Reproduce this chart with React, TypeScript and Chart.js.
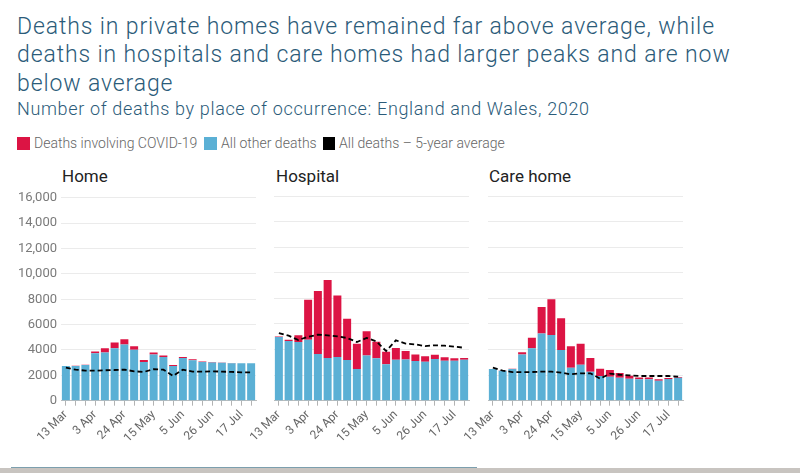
import React, { useEffect, useRef } from "react";
import { Chart, registerables } from "chart.js";

Chart.register(...registerables);
Chart.defaults.font.family = "Roboto, 'Open Sans', sans-serif";

// Week ending dates, 2020
const weeks = [
  "13 Mar", "20 Mar", "27 Mar", "3 Apr", "10 Apr", "17 Apr", "24 Apr", "1 May",
  "8 May", "15 May", "22 May", "29 May", "5 Jun", "12 Jun", "19 Jun", "26 Jun",
  "3 Jul", "10 Jul", "17 Jul", "24 Jul",
];

// Home
const homeOther = [2740, 2740, 2810, 3750, 3800, 4140, 4430, 4010, 3050, 3650, 3440, 2740, 3360, 3180, 3050, 3020, 3000, 2950, 2950, 2950];
const homeCovid = [5, 10, 30, 130, 340, 450, 420, 290, 150, 150, 130, 70, 80, 80, 50, 30, 20, 20, 10, 10];
const homeAverage = [2600, 2450, 2370, 2370, 2400, 2420, 2450, 2320, 2270, 2480, 2450, 1950, 2450, 2290, 2290, 2320, 2290, 2270, 2240, 2240];

// Hospital
const hospitalOther = [4980, 4665, 4590, 4770, 3650, 3340, 3410, 3180, 2480, 3540, 3310, 2840, 3200, 3230, 3100, 3050, 3260, 3130, 3130, 3200];
const hospitalCovid = [30, 105, 520, 3130, 4920, 6090, 4820, 3230, 1980, 1880, 1300, 990, 920, 650, 520, 420, 340, 260, 180, 140];
const hospitalAverage = [5290, 5080, 4740, 5000, 5160, 5110, 5030, 4900, 4590, 4900, 4640, 3880, 4720, 4460, 4400, 4270, 4330, 4300, 4220, 4140];

// Care home
const careOther = [2480, 2350, 2480, 3620, 4090, 5260, 5130, 3960, 2580, 2810, 2270, 1930, 1880, 1800, 1720, 1670, 1670, 1560, 1690, 1800];
const careCovid = [5, 5, 10, 160, 840, 2060, 2790, 2480, 1670, 1650, 1070, 570, 520, 360, 230, 150, 150, 110, 80, 50];
const careAverage = [2580, 2350, 2240, 2240, 2240, 2270, 2270, 2190, 2060, 2140, 2140, 1720, 2110, 2030, 1980, 1930, 1930, 1930, 1930, 1880];

const yMax = 16000;
const yStep = 2000;

const RED = "#dc1444";
const BLUE = "#5bb0d5";
const TITLE_BLUE = "#2b5b79";

const legendItems = [
  { label: "Deaths involving COVID-19", color: RED, box: 17, text: 34 },
  { label: "All other deaths", color: BLUE, box: 204, text: 221 },
  { label: "All deaths \u2013 5-year average", color: "#000", box: 322.5, text: 339 },
];

type PanelProps = {
  left: number;
  width: number;
  padLeft: number;
  showY: boolean;
  other: number[];
  covid: number[];
  average: number[];
};

function Panel({ left, width, padLeft, showY, other, covid, average }: PanelProps) {
  const ref = useRef<HTMLCanvasElement | null>(null);

  useEffect(() => {
    if (!ref.current) return;
    const chart = new Chart(ref.current, {
      type: "bar",
      data: {
        labels: weeks,
        datasets: [
          {
            type: "line",
            label: "All deaths \u2013 5-year average",
            data: average,
            borderColor: "#000",
            borderWidth: 1.8,
            borderDash: [5, 3],
            pointRadius: 0,
            fill: false,
            tension: 0,
            stack: "avg",
            order: 0,
          } as any,
          {
            label: "All other deaths",
            data: other,
            backgroundColor: BLUE,
            stack: "deaths",
            order: 1,
            barPercentage: 0.82,
            categoryPercentage: 1,
          },
          {
            label: "Deaths involving COVID-19",
            data: covid,
            backgroundColor: RED,
            stack: "deaths",
            order: 1,
            barPercentage: 0.82,
            categoryPercentage: 1,
          },
        ],
      },
      options: {
        responsive: false,
        maintainAspectRatio: false,
        animation: false,
        layout: { padding: { left: padLeft, right: 12, top: 10, bottom: 0 } },
        plugins: { legend: { display: false }, tooltip: { enabled: false } },
        scales: {
          x: {
            stacked: true,
            offset: true,
            grid: {
              display: true,
              drawOnChartArea: false,
              drawTicks: true,
              tickLength: 5,
              color: "#b3b3b3",
              offset: false,
            },
            border: { display: true, color: "#bdbdbd" },
            ticks: {
              autoSkip: false,
              maxRotation: 45,
              minRotation: 45,
              padding: 2,
              color: "#666",
              font: { size: 12 },
              callback: (_v: any, i: number) => (i % 3 === 0 ? weeks[i] : ""),
            },
            afterFit: (s: any) => {
              s.height = 65.3;
            },
          },
          y: {
            stacked: true,
            min: 0,
            max: yMax,
            grid: { color: "#ebebeb", drawTicks: false },
            border: { display: false },
            ticks: {
              display: showY,
              stepSize: yStep,
              padding: 4,
              color: "#7a7a7a",
              font: { size: 13 },
              callback: (v: any) => (Number(v) >= 10000 ? Number(v).toLocaleString("en-US") : String(v)),
            },
            afterFit: (s: any) => {
              s.width = showY ? 61 : 0;
            },
          },
        },
      },
    });
    return () => chart.destroy();
  }, []);

  return (
    <canvas
      ref={ref}
      width={width}
      height={280}
      style={{ position: "absolute", left, top: 186, width, height: 280 }}
    />
  );
}

// Place a line of Roboto text by its baseline (line-height equal to font size)
function Text({ x, baseline, size, color, weight = 400, spacing = 0, children }: any) {
  return (
    <div
      style={{
        position: "absolute",
        left: x,
        top: baseline - 0.842 * size,
        fontFamily: "Roboto, 'Open Sans', sans-serif",
        fontSize: size,
        lineHeight: `${size}px`,
        fontWeight: weight,
        letterSpacing: spacing,
        color,
        whiteSpace: "nowrap",
      }}
    >
      {children}
    </div>
  );
}

export default function App() {
  return (
    <div
      style={{
        position: "absolute",
        left: 0,
        top: 0,
        width: 800,
        height: 473,
        background: "#fff",
        overflow: "hidden",
      }}
    >
      <Text x={17} baseline={34.3} size={23} spacing={0.88} color={TITLE_BLUE} weight={300}>
        Deaths in private homes have remained far above average, while
      </Text>
      <Text x={17} baseline={62.5} size={23} spacing={0.88} color={TITLE_BLUE} weight={300}>
        deaths in hospitals and care homes had larger peaks and are now
      </Text>
      <Text x={17} baseline={91} size={23} spacing={0.88} color={TITLE_BLUE} weight={300}>
        below average
      </Text>
      <Text x={17} baseline={115} size={18} spacing={0.65} color={TITLE_BLUE} weight={300}>
        Number of deaths by place of occurrence: England and Wales, 2020
      </Text>

      {legendItems.map((item) => (
        <React.Fragment key={item.label}>
          <div
            style={{
              position: "absolute",
              left: item.box,
              top: 136.5,
              width: 12.5,
              height: 13,
              background: item.color,
            }}
          />
          <Text x={item.text} baseline={147.7} size={14} color="#666" weight={300}>
            {item.label}
          </Text>
        </React.Fragment>
      ))}

      <Text x={62} baseline={182.5} size={17} color="#222">Home</Text>
      <Text x={276} baseline={182.5} size={17} color="#222">Hospital</Text>
      <Text x={489} baseline={182.5} size={17} color="#222">Care home</Text>

      <Panel left={0} width={268} padLeft={0} showY={true} other={homeOther} covid={homeCovid} average={homeAverage} />
      <Panel left={234} width={247} padLeft={40} showY={false} other={hospitalOther} covid={hospitalCovid} average={hospitalAverage} />
      <Panel left={448} width={247} padLeft={40} showY={false} other={careOther} covid={careCovid} average={careAverage} />

      <div style={{ position: "absolute", left: 11, top: 466.5, width: 466, height: 1, background: "#7c9fae" }} />
      <div style={{ position: "absolute", left: 0, top: 467.5, width: 800, height: 6, background: "#c8c4c0" }} />
    </div>
  );
}
